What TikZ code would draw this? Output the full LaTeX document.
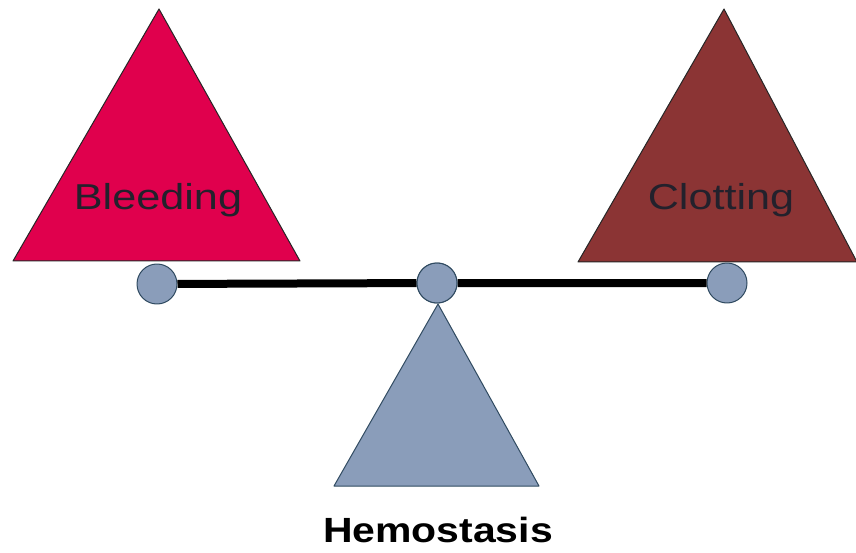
\documentclass[tikz,border=0pt]{standalone}
\usepackage{xcolor}
\usepackage{tikz}
\usepackage{graphicx}
\usepackage{fontspec}
\setmainfont{Liberation Sans}

\definecolor{bleedred}{HTML}{E0004D}
\definecolor{clotbrown}{HTML}{8B3434}
\definecolor{scalegray}{HTML}{8A9DBA}
\definecolor{edgeblue}{HTML}{2F4A60}
\definecolor{labelink}{HTML}{23212C}

\begin{document}
\begin{tikzpicture}[x=1pt,y=1pt,line join=round,semithick]
        \tikzstyle{weight}=[draw=black!85,line width=1pt]
        \tikzstyle{pivot}=[circle,draw=edgeblue,fill=scalegray,minimum size=40pt,inner sep=0pt,line width=1pt]
        \tikzstyle{label}=[text=labelink,font=\fontsize{36}{40}\selectfont,inner sep=0pt,anchor=base]

        \useasboundingbox (0,0) rectangle (856,-553);

        % the two loads and the stand
        \draw[weight,fill=bleedred]  (159,-9)  -- (300,-261) -- (13,-261) -- cycle;
        \draw[weight,fill=clotbrown] (724,-9)  -- (857,-262) -- (578,-262) -- cycle;
        \draw[weight,fill=scalegray,draw=edgeblue] (438,-304) -- (539,-486) -- (334,-486) -- cycle;

        \node[label] (bleed) at (158,-210) {\scalebox{1.2}[1]{Bleeding}};
        \node[label] (clot)  at (721,-210) {\scalebox{1.2}[1]{Clotting}};

        % the beam
        \node[pivot] (L) at (157,-284) {};
        \node[pivot] (M) at (437,-283) {};
        \node[pivot] (R) at (727,-283) {};
        \draw[line width=8pt] (L) -- (M) -- (R);
        \node[pivot] at (M) {};

        \node[text=black,font=\fontsize{35}{40}\selectfont\bfseries,inner sep=0pt,anchor=base]
                (hemo) at (438,-542) {\scalebox{1.17}[1]{Hemostasis}};
\end{tikzpicture}
\end{document}
